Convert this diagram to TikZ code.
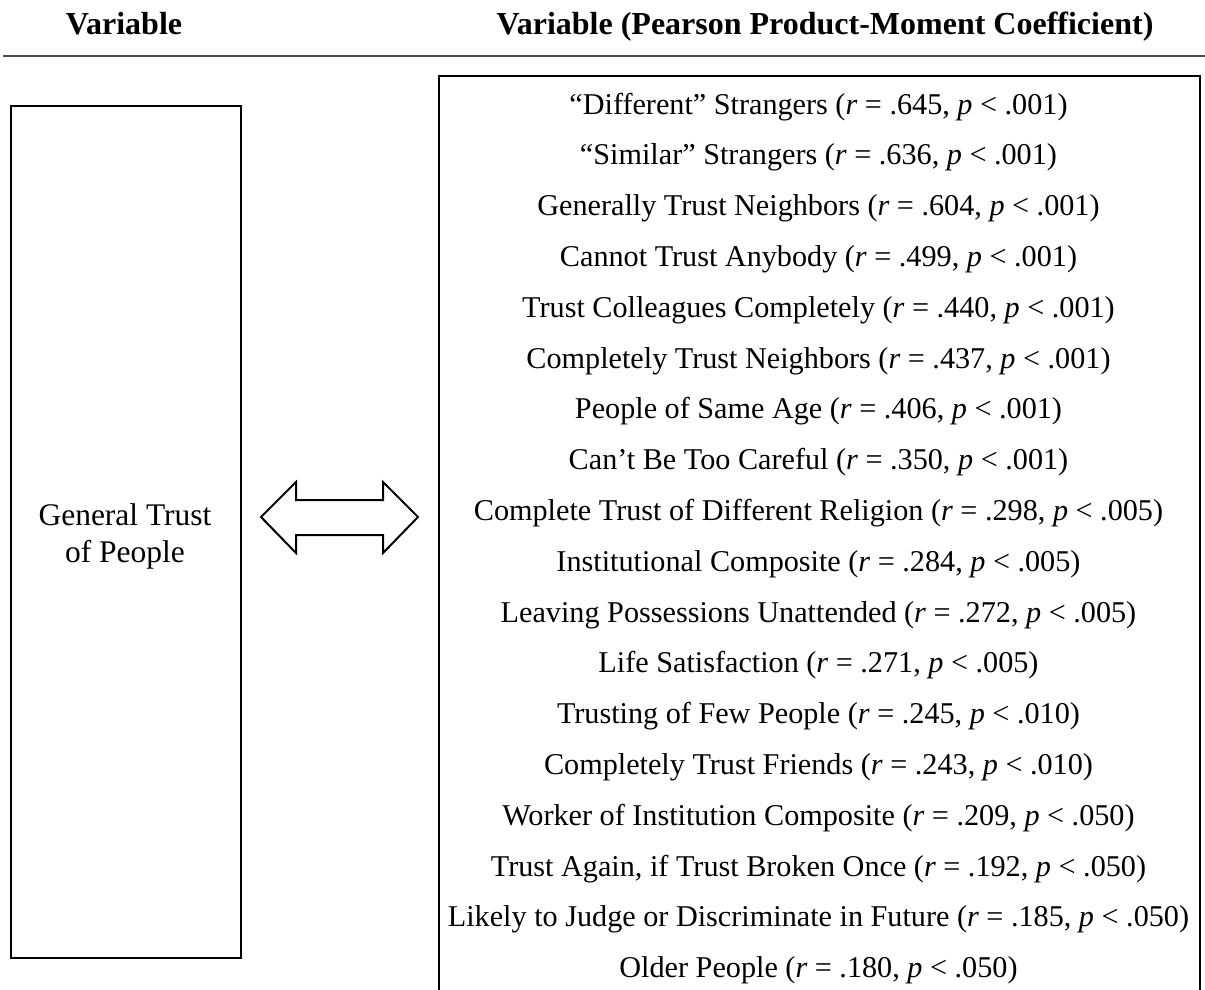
\documentclass[tikz,border=0pt]{standalone}
\usepackage{fontspec}
\setmainfont{Liberation Serif}
\begin{document}
\begin{tikzpicture}[x=1bp,y=-1bp,
  box/.style={draw=black,line width=2bp,inner sep=0pt},
  headtext/.style={anchor=base,inner sep=0pt,font=\fontsize{32bp}{38bp}\selectfont\bfseries},
  rowtext/.style={anchor=base,inner sep=0pt,font=\fontsize{30.2bp}{36bp}\selectfont},
  lefttext/.style={align=center,inner sep=0pt,font=\fontsize{31.5bp}{37bp}\selectfont},
  bigarrow/.style={draw=black,line width=2bp,fill=white,line join=miter},
]
\useasboundingbox (0,0) rectangle (1205,990);
\clip (0,0) rectangle (1205,990);

% column headings and rule
\node[headtext] (hleft) at (124,34) {Variable};
\node[headtext] (hright) at (825,34) {Variable (Pearson Product-Moment Coefficient)};
\draw[line width=2bp,color=black!70] (3,55.5) -- (1205,55.5);

% left variable box
\node[box,minimum width=230bp,minimum height=852bp,anchor=north west] (gen) at (10,105) {};
\node[lefttext] (genlabel) at (125,536) {General Trust\\of People};

% right box (runs past the lower edge)
\node[box,minimum width=761bp,minimum height=960bp,anchor=north west] (corr) at (438,75) {};

% correlated variables
\foreach \t [count=\i] in {
  {“Different” Strangers (\textit{r} = .645, \textit{p} < .001)},
  {“Similar” Strangers (\textit{r} = .636, \textit{p} < .001)},
  {Generally Trust Neighbors (\textit{r} = .604, \textit{p} < .001)},
  {Cannot Trust Anybody (\textit{r} = .499, \textit{p} < .001)},
  {Trust Colleagues Completely (\textit{r} = .440, \textit{p} < .001)},
  {Completely Trust Neighbors (\textit{r} = .437, \textit{p} < .001)},
  {People of Same Age (\textit{r} = .406, \textit{p} < .001)},
  {Can’t Be Too Careful (\textit{r} = .350, \textit{p} < .001)},
  {Complete Trust of Different Religion (\textit{r} = .298, \textit{p} < .005)},
  {Institutional Composite (\textit{r} = .284, \textit{p} < .005)},
  {Leaving Possessions Unattended (\textit{r} = .272, \textit{p} < .005)},
  {Life Satisfaction (\textit{r} = .271, \textit{p} < .005)},
  {Trusting of Few People (\textit{r} = .245, \textit{p} < .010)},
  {Completely Trust Friends (\textit{r} = .243, \textit{p} < .010)},
  {Worker of Institution Composite (\textit{r} = .209, \textit{p} < .050)},
  {Trust Again, if Trust Broken Once (\textit{r} = .192, \textit{p} < .050)},
  {Likely to Judge or Discriminate in Future (\textit{r} = .185, \textit{p} < .050)},
  {Older People (\textit{r} = .180, \textit{p} < .050)}}
  \node[rowtext] (row\i) at (818.5,{114+(\i-1)*50.8}) {\t};

% two-headed block arrow between the boxes
\coordinate (al) at (261,517);
\coordinate (ar) at (418,517);
\draw[bigarrow] (al) -- ++(35,-35) -- ++(0,18) -- ++(87,0) -- ++(0,-18)
  -- (ar) -- ++(-35,36) -- ++(0,-18) -- ++(-87,0) -- ++(0,18) -- cycle;
\end{tikzpicture}
\end{document}
